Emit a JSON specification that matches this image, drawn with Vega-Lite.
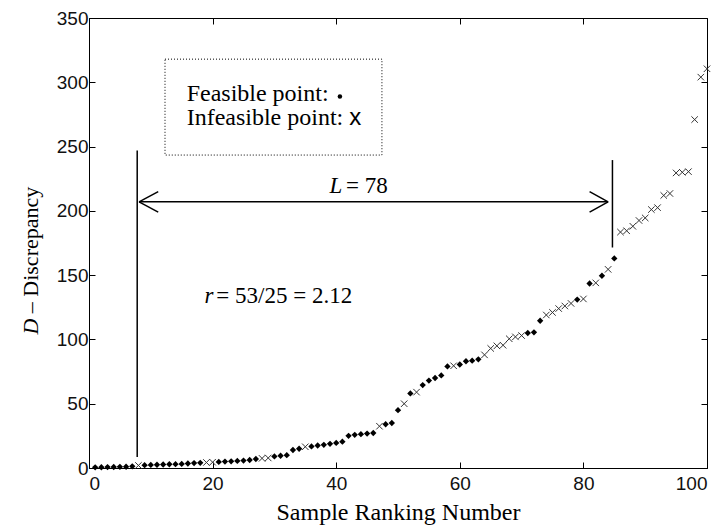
{
  "$schema": "https://vega.github.io/schema/vega-lite/v6.json",
  "autosize": {"type": "none"},
  "width": 618,
  "height": 450,
  "padding": {"left": 89, "top": 18, "right": 17, "bottom": 57},
  "background": "white",
  "config": {
    "view": {"stroke": "black", "strokeWidth": 1},
    "axis": {
      "grid": false,
      "domainColor": "black",
      "tickColor": "black",
      "labelColor": "#111111",
      "titleColor": "black",
      "labelFont": "Liberation Sans",
      "labelFontSize": 19,
      "titleFont": "Liberation Serif",
      "titleFontSize": 24,
      "titleFontWeight": "normal",
      "tickSize": -6
    }
  },
  "datasets": {
    "pts": [
      {"rank": 1, "D": 0.5, "type": "feasible"},
      {"rank": 2, "D": 0.6, "type": "feasible"},
      {"rank": 3, "D": 0.7, "type": "feasible"},
      {"rank": 4, "D": 0.8, "type": "feasible"},
      {"rank": 5, "D": 0.9, "type": "feasible"},
      {"rank": 6, "D": 1.0, "type": "feasible"},
      {"rank": 7, "D": 1.3, "type": "feasible"},
      {"rank": 8, "D": 2.0, "type": "infeasible"},
      {"rank": 9, "D": 2.2, "type": "feasible"},
      {"rank": 10, "D": 2.4, "type": "feasible"},
      {"rank": 11, "D": 2.5, "type": "feasible"},
      {"rank": 12, "D": 2.7, "type": "feasible"},
      {"rank": 13, "D": 2.9, "type": "feasible"},
      {"rank": 14, "D": 3.0, "type": "feasible"},
      {"rank": 15, "D": 3.2, "type": "feasible"},
      {"rank": 16, "D": 3.5, "type": "feasible"},
      {"rank": 17, "D": 3.8, "type": "feasible"},
      {"rank": 18, "D": 4.0, "type": "feasible"},
      {"rank": 19, "D": 4.3, "type": "infeasible"},
      {"rank": 20, "D": 4.5, "type": "infeasible"},
      {"rank": 21, "D": 4.7, "type": "feasible"},
      {"rank": 22, "D": 5.0, "type": "feasible"},
      {"rank": 23, "D": 5.2, "type": "feasible"},
      {"rank": 24, "D": 5.5, "type": "feasible"},
      {"rank": 25, "D": 5.8, "type": "feasible"},
      {"rank": 26, "D": 6.2, "type": "feasible"},
      {"rank": 27, "D": 7.0, "type": "feasible"},
      {"rank": 28, "D": 7.5, "type": "infeasible"},
      {"rank": 29, "D": 7.8, "type": "infeasible"},
      {"rank": 30, "D": 9.0, "type": "feasible"},
      {"rank": 31, "D": 9.5, "type": "feasible"},
      {"rank": 32, "D": 10.0, "type": "feasible"},
      {"rank": 33, "D": 14.0, "type": "feasible"},
      {"rank": 34, "D": 15.0, "type": "feasible"},
      {"rank": 35, "D": 16.5, "type": "infeasible"},
      {"rank": 36, "D": 16.8, "type": "feasible"},
      {"rank": 37, "D": 17.5, "type": "feasible"},
      {"rank": 38, "D": 18.0, "type": "feasible"},
      {"rank": 39, "D": 18.8, "type": "feasible"},
      {"rank": 40, "D": 19.5, "type": "feasible"},
      {"rank": 41, "D": 20.5, "type": "feasible"},
      {"rank": 42, "D": 25.0, "type": "feasible"},
      {"rank": 43, "D": 25.8, "type": "feasible"},
      {"rank": 44, "D": 26.3, "type": "feasible"},
      {"rank": 45, "D": 26.8, "type": "feasible"},
      {"rank": 46, "D": 27.2, "type": "feasible"},
      {"rank": 47, "D": 32.5, "type": "infeasible"},
      {"rank": 48, "D": 34.0, "type": "feasible"},
      {"rank": 49, "D": 35.0, "type": "feasible"},
      {"rank": 50, "D": 45.0, "type": "feasible"},
      {"rank": 51, "D": 50.0, "type": "infeasible"},
      {"rank": 52, "D": 58.0, "type": "feasible"},
      {"rank": 53, "D": 59.0, "type": "infeasible"},
      {"rank": 54, "D": 64.5, "type": "feasible"},
      {"rank": 55, "D": 68.0, "type": "feasible"},
      {"rank": 56, "D": 70.0, "type": "feasible"},
      {"rank": 57, "D": 72.0, "type": "feasible"},
      {"rank": 58, "D": 79.0, "type": "feasible"},
      {"rank": 59, "D": 79.5, "type": "infeasible"},
      {"rank": 60, "D": 80.5, "type": "feasible"},
      {"rank": 61, "D": 83.0, "type": "feasible"},
      {"rank": 62, "D": 83.5, "type": "feasible"},
      {"rank": 63, "D": 84.5, "type": "feasible"},
      {"rank": 64, "D": 88.0, "type": "infeasible"},
      {"rank": 65, "D": 93.0, "type": "infeasible"},
      {"rank": 66, "D": 95.0, "type": "infeasible"},
      {"rank": 67, "D": 95.5, "type": "infeasible"},
      {"rank": 68, "D": 100.5, "type": "infeasible"},
      {"rank": 69, "D": 102.0, "type": "infeasible"},
      {"rank": 70, "D": 103.0, "type": "infeasible"},
      {"rank": 71, "D": 105.0, "type": "feasible"},
      {"rank": 72, "D": 105.5, "type": "feasible"},
      {"rank": 73, "D": 114.5, "type": "feasible"},
      {"rank": 74, "D": 119.0, "type": "infeasible"},
      {"rank": 75, "D": 121.0, "type": "infeasible"},
      {"rank": 76, "D": 124.0, "type": "infeasible"},
      {"rank": 77, "D": 126.0, "type": "infeasible"},
      {"rank": 78, "D": 128.0, "type": "infeasible"},
      {"rank": 79, "D": 131.0, "type": "feasible"},
      {"rank": 80, "D": 131.5, "type": "infeasible"},
      {"rank": 81, "D": 143.5, "type": "feasible"},
      {"rank": 82, "D": 144.0, "type": "infeasible"},
      {"rank": 83, "D": 149.5, "type": "feasible"},
      {"rank": 84, "D": 154.5, "type": "infeasible"},
      {"rank": 85, "D": 163.0, "type": "feasible"},
      {"rank": 86, "D": 183.5, "type": "infeasible"},
      {"rank": 87, "D": 184.5, "type": "infeasible"},
      {"rank": 88, "D": 188.0, "type": "infeasible"},
      {"rank": 89, "D": 192.5, "type": "infeasible"},
      {"rank": 90, "D": 194.5, "type": "infeasible"},
      {"rank": 91, "D": 201.0, "type": "infeasible"},
      {"rank": 92, "D": 202.5, "type": "infeasible"},
      {"rank": 93, "D": 212.0, "type": "infeasible"},
      {"rank": 94, "D": 213.5, "type": "infeasible"},
      {"rank": 95, "D": 229.5, "type": "infeasible"},
      {"rank": 96, "D": 230.0, "type": "infeasible"},
      {"rank": 97, "D": 230.5, "type": "infeasible"},
      {"rank": 98, "D": 271.0, "type": "infeasible"},
      {"rank": 99, "D": 304.0, "type": "infeasible"},
      {"rank": 100, "D": 310.5, "type": "infeasible"}
    ],
    "segs": [
      {"x": 7.8, "y": 8.5, "x2": 7.8, "y2": 247},
      {"x": 84.7, "y": 171.5, "x2": 84.7, "y2": 239.5},
      {"x": 8.1, "y": 207, "x2": 84.0, "y2": 207},
      {"x": 8.1, "y": 207, "x2": 11.2, "y2": 215},
      {"x": 8.1, "y": 207, "x2": 11.2, "y2": 199},
      {"x": 84.0, "y": 207, "x2": 81.0, "y2": 215},
      {"x": 84.0, "y": 207, "x2": 81.0, "y2": 199}
    ],
    "box": [{"x": 12.3, "x2": 47.4, "y": 243.4, "y2": 318}],
    "italic": [
      {"x": 38.9, "y": 219, "label": "L"},
      {"x": 18.7, "y": 134, "label": "r"}
    ],
    "plain": [
      {"x": 41.6, "y": 219, "label": "= 78"},
      {"x": 20.6, "y": 134, "label": "= 53/25 = 2.12"}
    ],
    "legtext": [
      {"x": 15.8, "y": 291, "label": "Feasible point:"},
      {"x": 15.8, "y": 272, "label": "Infeasible point:"}
    ],
    "legx": [{"x": 42.1, "y": 272.5, "label": "x"}],
    "legdot": [{"x": 40.6, "y": 289}],
    "ytitleItalic": [{"x": -9.4, "y": 103.8, "label": "D"}],
    "ytitlePlain": [{"x": -9.4, "y": 120.4, "label": "– Discrepancy"}]
  },
  "layer": [
    {
      "data": {"name": "pts"},
      "transform": [{"filter": "datum.type === 'feasible'"}],
      "mark": {"type": "point", "shape": "diamond", "filled": true, "color": "black", "size": 40, "opacity": 1},
      "encoding": {
        "x": {"field": "rank", "type": "quantitative", "scale": {"domain": [0, 100], "nice": false},
              "axis": {"title": "Sample Ranking Number", "values": [0, 20, 40, 60, 80, 100], "labelPadding": 12,
                       "titleBaseline": "alphabetic", "titleY": 51}},
        "y": {"field": "D", "type": "quantitative", "scale": {"domain": [0, 350], "nice": false},
              "axis": {"title": null, "values": [0, 50, 100, 150, 200, 250, 300, 350], "labelPadding": 7}}
      }
    },
    {
      "data": {"name": "pts"},
      "transform": [{"filter": "datum.type === 'infeasible'"}],
      "mark": {"type": "point", "shape": "M-1,-1L1,1M-1,1L1,-1", "filled": false, "stroke": "#333333", "strokeWidth": 1, "size": 42, "opacity": 1},
      "encoding": {
        "x": {"field": "rank", "type": "quantitative", "axis": null},
        "y": {"field": "D", "type": "quantitative", "axis": null}
      }
    },
    {
      "data": {"name": "segs"},
      "mark": {"type": "rule", "color": "black", "strokeWidth": 1.5},
      "encoding": {
        "x": {"field": "x", "type": "quantitative", "axis": null},
        "y": {"field": "y", "type": "quantitative", "axis": null},
        "x2": {"field": "x2"},
        "y2": {"field": "y2"}
      }
    },
    {
      "data": {"name": "box"},
      "mark": {"type": "rect", "filled": false, "stroke": "black", "strokeWidth": 1, "strokeDash": [1, 2], "fill": null},
      "encoding": {
        "x": {"field": "x", "type": "quantitative", "axis": null},
        "x2": {"field": "x2"},
        "y": {"field": "y", "type": "quantitative", "axis": null},
        "y2": {"field": "y2"}
      }
    },
    {
      "data": {"name": "italic"},
      "mark": {"type": "text", "font": "Liberation Serif", "fontStyle": "italic", "fontSize": 23, "align": "left", "baseline": "middle", "color": "black"},
      "encoding": {
        "x": {"field": "x", "type": "quantitative", "axis": null},
        "y": {"field": "y", "type": "quantitative", "axis": null},
        "text": {"field": "label"}
      }
    },
    {
      "data": {"name": "plain"},
      "mark": {"type": "text", "font": "Liberation Serif", "fontSize": 23, "align": "left", "baseline": "middle", "color": "black"},
      "encoding": {
        "x": {"field": "x", "type": "quantitative", "axis": null},
        "y": {"field": "y", "type": "quantitative", "axis": null},
        "text": {"field": "label"}
      }
    },
    {
      "data": {"name": "legtext"},
      "mark": {"type": "text", "font": "Liberation Serif", "fontSize": 24, "align": "left", "baseline": "middle", "color": "black"},
      "encoding": {
        "x": {"field": "x", "type": "quantitative", "axis": null},
        "y": {"field": "y", "type": "quantitative", "axis": null},
        "text": {"field": "label"}
      }
    },
    {
      "data": {"name": "legx"},
      "mark": {"type": "text", "font": "Liberation Sans", "fontSize": 24, "align": "left", "baseline": "middle", "color": "black"},
      "encoding": {
        "x": {"field": "x", "type": "quantitative", "axis": null},
        "y": {"field": "y", "type": "quantitative", "axis": null},
        "text": {"field": "label"}
      }
    },
    {
      "data": {"name": "legdot"},
      "mark": {"type": "point", "shape": "circle", "filled": true, "color": "black", "size": 20, "opacity": 1},
      "encoding": {
        "x": {"field": "x", "type": "quantitative", "axis": null},
        "y": {"field": "y", "type": "quantitative", "axis": null}
      }
    },
    {
      "data": {"name": "ytitleItalic"},
      "mark": {"type": "text", "font": "Liberation Serif", "fontStyle": "italic", "fontSize": 22, "angle": 270, "align": "left", "baseline": "middle", "color": "black", "clip": false},
      "encoding": {
        "x": {"field": "x", "type": "quantitative", "axis": null},
        "y": {"field": "y", "type": "quantitative", "axis": null},
        "text": {"field": "label"}
      }
    },
    {
      "data": {"name": "ytitlePlain"},
      "mark": {"type": "text", "font": "Liberation Serif", "fontSize": 22, "angle": 270, "align": "left", "baseline": "middle", "color": "black", "clip": false},
      "encoding": {
        "x": {"field": "x", "type": "quantitative", "axis": null},
        "y": {"field": "y", "type": "quantitative", "axis": null},
        "text": {"field": "label"}
      }
    },
    {
      "data": {"name": "pts"},
      "mark": {"type": "point", "opacity": 0},
      "encoding": {
        "x": {"field": "rank", "type": "quantitative",
              "axis": {"orient": "top", "labels": false, "title": null, "values": [0, 20, 40, 60, 80, 100], "domain": false}},
        "y": {"field": "D", "type": "quantitative",
              "axis": {"orient": "right", "labels": false, "title": null, "values": [0, 50, 100, 150, 200, 250, 300, 350], "domain": false}}
      }
    }
  ],
  "resolve": {"axis": {"x": "independent", "y": "independent"}}
}
